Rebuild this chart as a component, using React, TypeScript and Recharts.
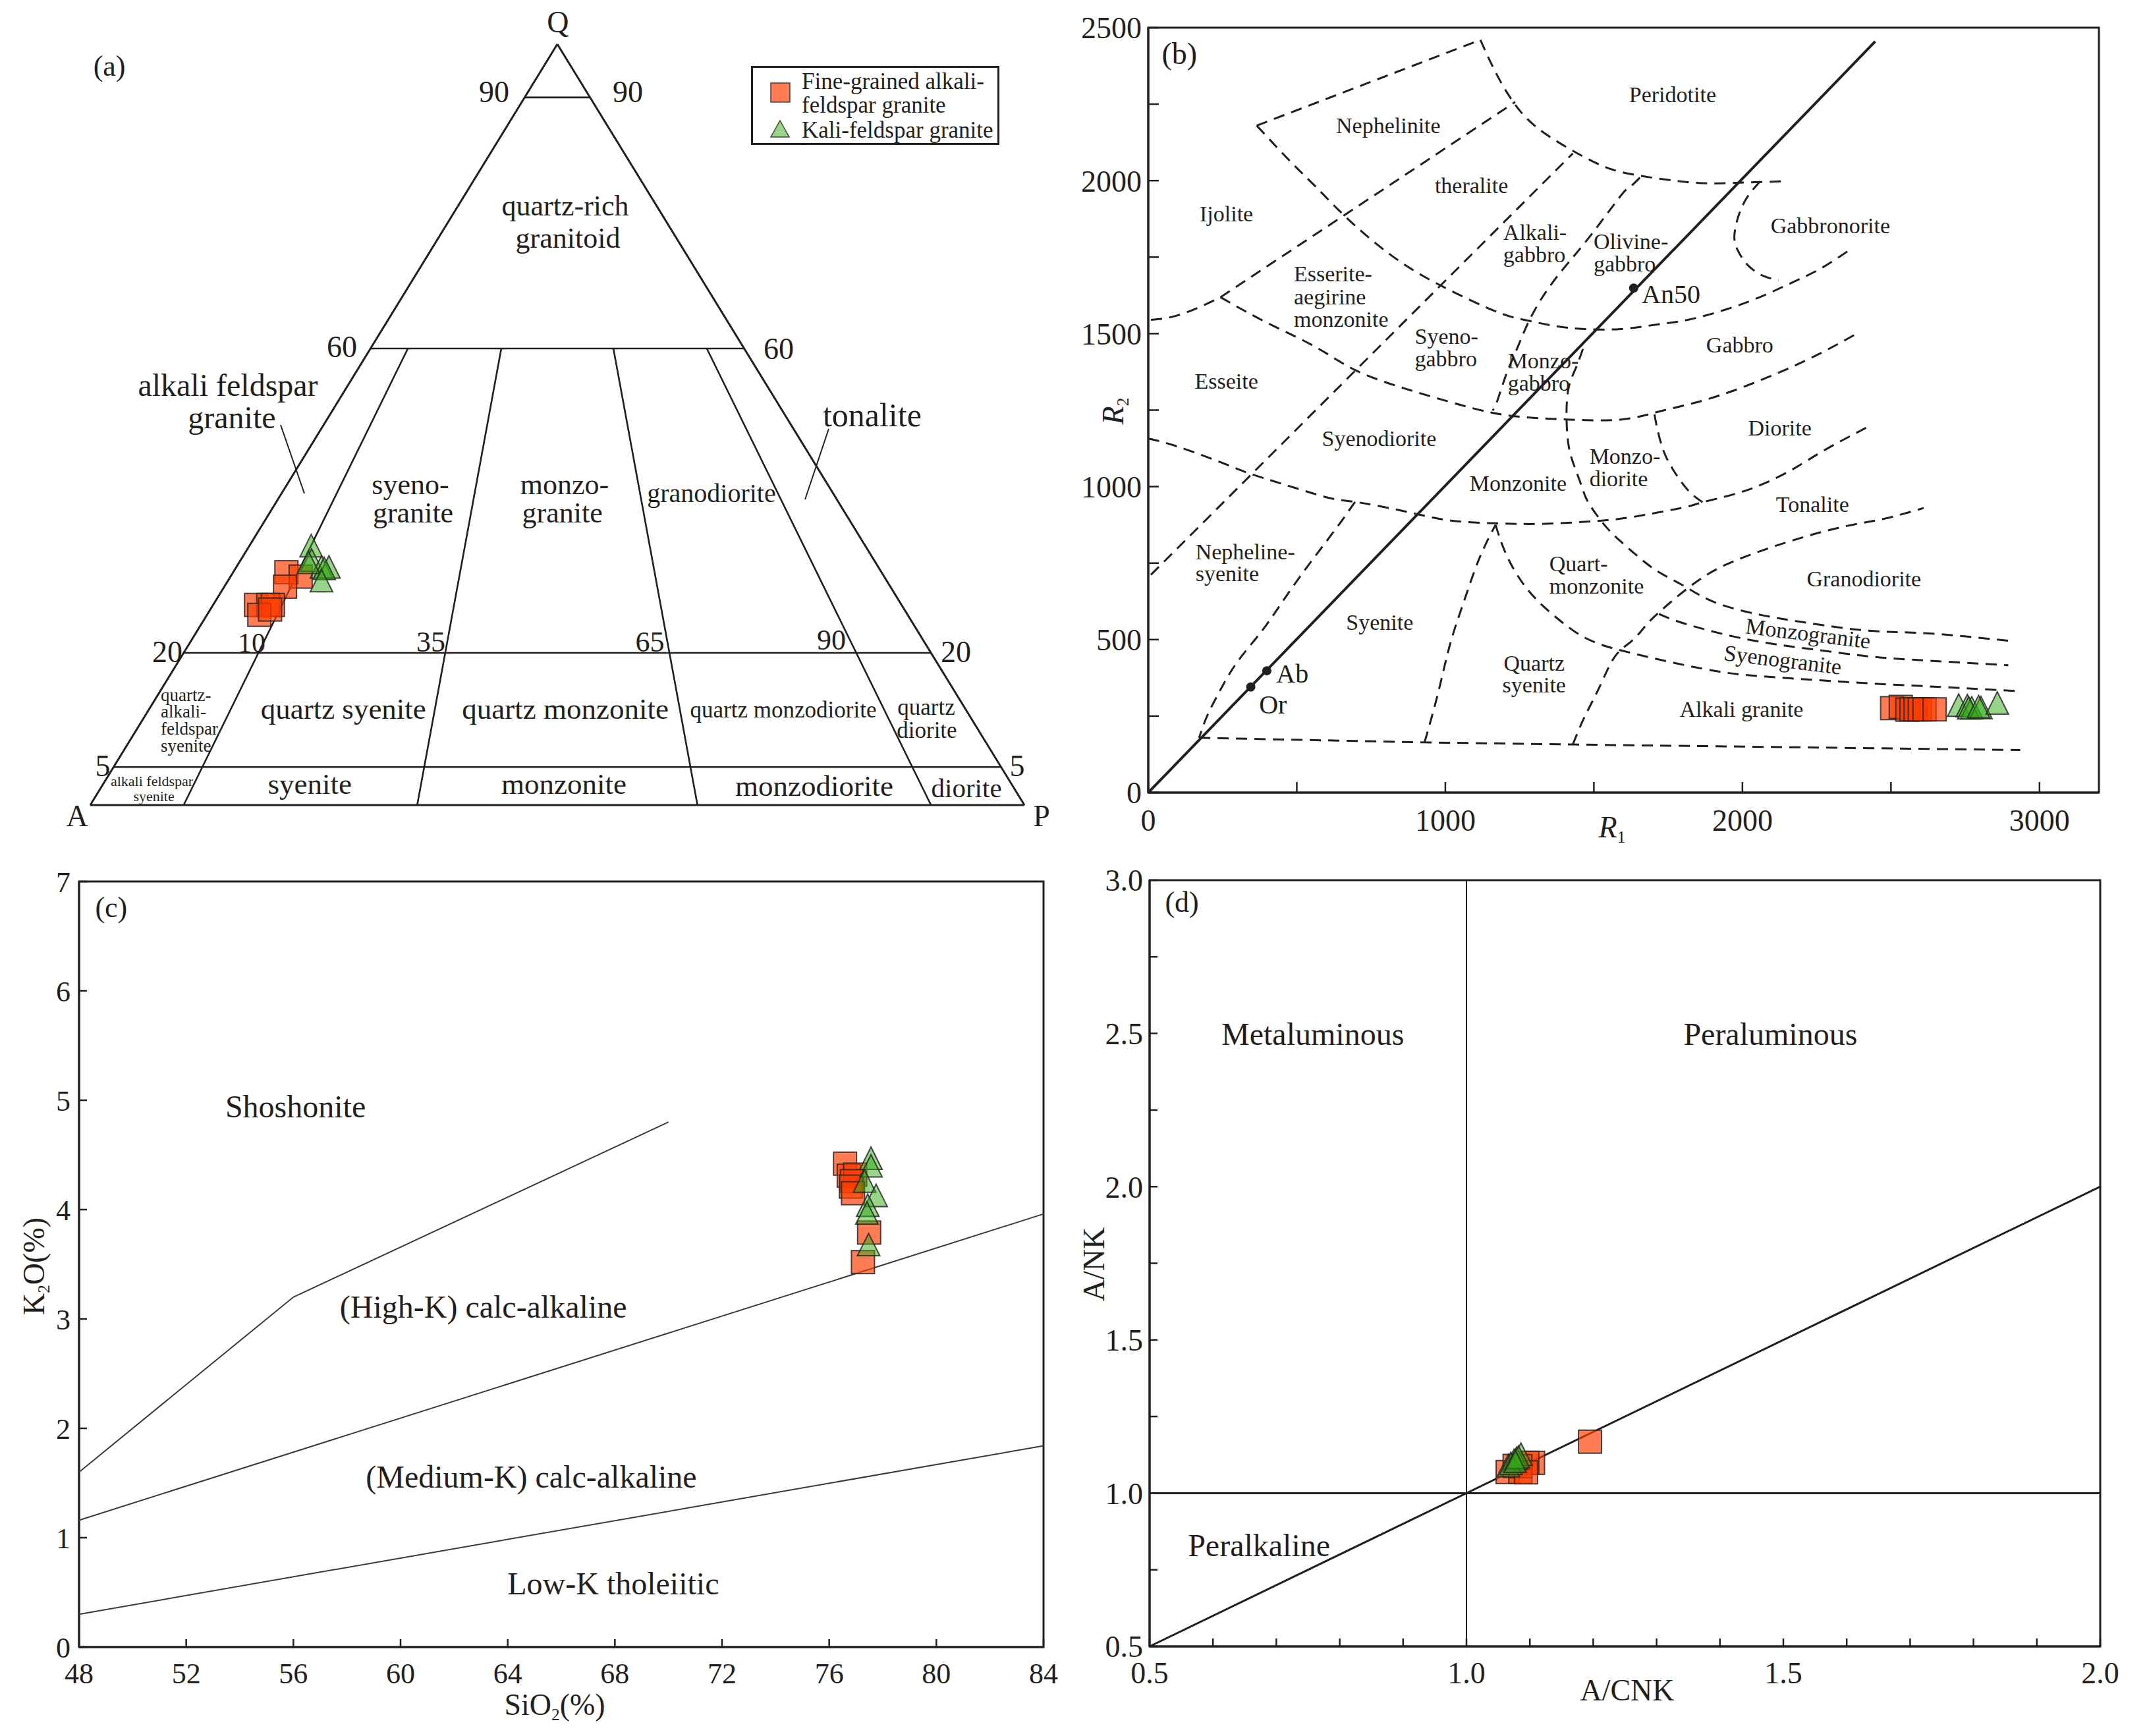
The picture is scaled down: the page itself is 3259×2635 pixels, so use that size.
import React from 'react';
import {
    ScatterChart,
    Scatter,
    XAxis,
    YAxis,
    ReferenceLine,
    ReferenceArea,
    Legend,
} from 'recharts';

const SERIF = '"Liberation Serif", "Times New Roman", serif';
const INK = '#231f20';
const SQ_FILL = 'rgba(255, 60, 0, 0.67)';
const TRI_FILL = 'rgba(50, 170, 20, 0.5)';
const EDGE = 'rgba(40, 40, 40, 0.85)';

// ---------- (a) QAP diagram, modal % ----------
const fineQ = [30.6, 30.0, 28.7, 26.3, 26.3, 26.3, 25.0, 25.7];
const fineA = [63.7, 62.4, 64.8, 69.1, 67.8, 67.3, 69.4, 67.9];
const fineP = [5.7, 7.5, 6.5, 4.6, 5.9, 6.4, 5.6, 6.4];
const kaliQ = [34.1, 32.2, 31.3, 31.3, 31.1, 29.5, 31.9];
const kaliA = [59.3, 60.2, 59.6, 58.8, 59.4, 60.5, 60.7];
const kaliP = [6.6, 7.6, 9.1, 9.9, 9.5, 10.0, 7.4];

// field boundaries: Q levels (%) and P/(A+P) ratios (%) that run from Q=60 to the A-P side
const qLevels = [93, 60, 20, 5];
const pRatios = [10, 35, 65, 90];

// ---------- (b) R1-R2 diagram ----------
const fineR1 = [2504, 2533, 2555, 2569, 2583, 2597, 2613, 2647];
const fineR2 = [276, 280, 271, 272, 272, 272, 272, 272];
const kaliR1 = [2728, 2757, 2772, 2762, 2803, 2795, 2858];
const kaliR2 = [286, 284, 277, 277, 278, 281, 293];

const refMinerals = [
    { name: 'Or', r1: 345, r2: 345 },
    { name: 'Ab', r1: 399, r2: 398 },
    { name: 'An50', r1: 1634, r2: 1649 },
];
const feldsparLine = [[0, 0], [2447, 2455]];

// dashed field boundaries, [R1, R2] vertices
const bBounds: { pts: number[][]; smooth: boolean }[] = [
    { smooth: false, pts: [[365, 2180], [1118, 2460]] },
    { smooth: true, pts: [[1118, 2460], [1179, 2336], [1261, 2217], [1368, 2133], [1500, 2061], [1622, 2022], [1816, 1995], [1948, 1992], [2146, 1998]] },
    { smooth: true, pts: [[365, 2180], [482, 2059], [564, 1980], [665, 1881], [808, 1763], [971, 1664], [1164, 1575], [1266, 1545], [1368, 1525], [1470, 1515], [1590, 1515], [1714, 1530], [1816, 1545], [1948, 1580], [2070, 1624], [2172, 1669], [2264, 1713], [2360, 1773]] },
    { smooth: true, pts: [[9, 1545], [85, 1556], [166, 1584], [243, 1619]] },
    { smooth: false, pts: [[243, 1619], [1235, 2257]] },
    { smooth: true, pts: [[243, 1619], [401, 1535], [564, 1456], [696, 1381], [859, 1322], [1011, 1278], [1144, 1244], [1266, 1227], [1419, 1219], [1590, 1219], [1714, 1244], [1836, 1273], [1968, 1313], [2121, 1372], [2263, 1436], [2396, 1506]] },
    { smooth: false, pts: [[9, 712], [1429, 2089]] },
    { smooth: true, pts: [[1655, 2010], [1622, 1980], [1590, 1950], [1490, 1822], [1398, 1713], [1337, 1634], [1281, 1540], [1235, 1436], [1205, 1367], [1174, 1278], [1159, 1249]] },
    { smooth: true, pts: [[1463, 1450], [1439, 1387], [1414, 1318], [1408, 1219], [1414, 1140], [1429, 1081], [1459, 1001], [1480, 950], [1531, 880], [1590, 821], [1673, 752], [1734, 712], [1816, 668], [1917, 618], [2070, 579], [2223, 554], [2426, 529], [2630, 520], [2905, 495]] },
    { smooth: true, pts: [[0, 1157], [95, 1132], [248, 1078], [340, 1043], [451, 1009], [604, 964], [696, 950], [859, 920], [1011, 890], [1169, 880], [1317, 878], [1469, 885], [1590, 895], [1714, 915], [1816, 935], [1866, 949], [1968, 974], [2070, 1009], [2172, 1058], [2274, 1118], [2416, 1192]] },
    { smooth: true, pts: [[1704, 1236], [1714, 1187], [1734, 1118], [1765, 1058], [1816, 989], [1866, 949]] },
    { smooth: true, pts: [[696, 950], [645, 880], [584, 801], [523, 722], [451, 623], [380, 525], [299, 426], [238, 327], [197, 248], [171, 179]] },
    { smooth: false, pts: [[171, 179], [930, 164], [1429, 157], [2935, 139]] },
    { smooth: true, pts: [[930, 164], [976, 327], [1016, 485], [1062, 623], [1113, 762], [1169, 875]] },
    { smooth: true, pts: [[1169, 875], [1195, 801], [1235, 722], [1286, 653], [1347, 594], [1439, 524], [1520, 485], [1590, 465], [1714, 436], [1917, 396], [2121, 376], [2426, 357], [2630, 347], [2920, 332]] },
    { smooth: true, pts: [[1429, 157], [1469, 248], [1520, 347], [1571, 445], [1627, 495], [1673, 544], [1719, 589], [1816, 668], [1917, 732], [2040, 782], [2192, 831], [2345, 870], [2477, 895], [2610, 930]] },
    { smooth: true, pts: [[1719, 584], [1816, 549], [2019, 500], [2223, 470], [2426, 445], [2630, 431], [2895, 416]] },
    { smooth: true, pts: [[2060, 1998], [2019, 1950], [1989, 1891], [1973, 1822], [1984, 1773], [2019, 1723], [2070, 1689], [2121, 1674]] },
];

const bXTicks = [0, 500, 1000, 1500, 2000, 2500, 3000];
const bYTicks = [0, 250, 500, 750, 1000, 1250, 1500, 1750, 2000, 2250, 2500];

// ---------- (c) SiO2 - K2O ----------
const fineSiO2 = [76.59, 76.73, 76.97, 76.85, 76.81, 76.89, 77.49, 77.26];
const fineK2O = [4.42, 4.31, 4.32, 4.26, 4.21, 4.15, 3.79, 3.52];
const kaliSiO2 = [77.56, 77.56, 77.32, 77.75, 77.44, 77.41, 77.47];
const kaliK2O = [4.47, 4.40, 4.26, 4.13, 4.04, 3.97, 3.68];

const seriesLines = [
    [[48, 1.6], [56, 3.2], [70, 4.8]],
    [[48, 1.16], [84, 3.96]],
    [[48, 0.3], [84, 1.84]],
];
const cXTicks = [48, 52, 56, 60, 64, 68, 72, 76, 80, 84];
const cYTicks = [0, 1, 2, 3, 4, 5, 6, 7];

// ---------- (d) A/CNK - A/NK ----------
const fineACNK = [1.065, 1.076, 1.085, 1.105, 1.096, 1.085, 1.094, 1.195];
const fineANK = [1.069, 1.089, 1.069, 1.099, 1.099, 1.088, 1.068, 1.168];
const kaliACNK = [1.066, 1.075, 1.086, 1.070, 1.079, 1.082, 1.077];
const kaliANK = [1.090, 1.107, 1.127, 1.097, 1.114, 1.118, 1.104];

const dXTicks = [0.5, 0.6, 0.7, 0.8, 0.9, 1.0, 1.1, 1.2, 1.3, 1.4, 1.5, 1.6, 1.7, 1.8, 1.9, 2.0];
const dYTicks = [0.5, 0.75, 1.0, 1.25, 1.5, 1.75, 2.0, 2.25, 2.5, 2.75, 3.0];

// ---------- helpers ----------
type Pt = { x: number; y: number };
const qap = (q: number, p: number): Pt => ({ x: p + q / 2, y: q });
const toPts = (arr: number[][]) => arr.map(([x, y]) => ({ x, y }));
const zip = (xs: number[], ys: number[]) => xs.map((x, i) => ({ x, y: ys[i] }));

const fineQAP = fineQ.map((q, i) => {
    const s = q + fineA[i] + fineP[i];
    return qap((q / s) * 100, (fineP[i] / s) * 100);
});
const kaliQAP = kaliQ.map((q, i) => {
    const s = q + kaliA[i] + kaliP[i];
    return qap((q / s) * 100, (kaliP[i] / s) * 100);
});

const aLabels = [
    { x: 2.05, y: 97.14, text: '(a)', size: 44 },
    { x: 50.07, y: 102.94, text: 'Q', size: 46 },
    { x: -1.41, y: -1.47, text: 'A', size: 46 },
    { x: 101.83, y: -1.47, text: 'P', size: 46 },
    { x: 43.23, y: 93.68, text: '90', size: 46 },
    { x: 57.55, y: 93.68, text: '90', size: 46 },
    { x: 26.94, y: 60.22, text: '60', size: 46 },
    { x: 73.7, y: 60.0, text: '60', size: 46 },
    { x: 8.25, y: 20.09, text: '20', size: 46 },
    { x: 92.67, y: 20.09, text: '20', size: 46 },
    { x: 1.34, y: 5.11, text: '5', size: 46 },
    { x: 99.22, y: 5.11, text: '5', size: 46 },
    { x: 17.28, y: 21.34, text: '10', size: 42 },
    { x: 36.46, y: 21.47, text: '35', size: 44 },
    { x: 59.91, y: 21.47, text: '65', size: 44 },
    { x: 79.34, y: 21.73, text: '90', size: 44 },
    { x: 50.85, y: 78.75, text: 'quartz-rich', size: 44 },
    { x: 51.13, y: 74.5, text: 'granitoid', size: 44 },
    { x: 14.74, y: 55.19, text: 'alkali feldspar', size: 48 },
    { x: 15.16, y: 50.95, text: 'granite', size: 48 },
    { x: 34.27, y: 42.16, text: 'syeno-', size: 44 },
    { x: 34.56, y: 38.44, text: 'granite', size: 44 },
    { x: 50.78, y: 42.16, text: 'monzo-', size: 44 },
    { x: 50.54, y: 38.44, text: 'granite', size: 44 },
    { x: 66.5, y: 41.0, text: 'granodiorite', size: 40 },
    { x: 83.7, y: 51.25, text: 'tonalite', size: 50 },
    { x: 27.1, y: 12.64, text: 'quartz syenite', size: 45 },
    { x: 50.85, y: 12.64, text: 'quartz monzonite', size: 45 },
    { x: 74.19, y: 12.51, text: 'quartz monzodiorite', size: 35 },
    { x: 89.49, y: 12.86, text: 'quartz', size: 35 },
    { x: 89.56, y: 9.87, text: 'diorite', size: 35 },
    { x: 7.55, y: 14.46, text: 'quartz-', size: 27, anchor: 'start' },
    { x: 7.55, y: 12.29, text: 'alkali-', size: 27, anchor: 'start' },
    { x: 7.55, y: 10.04, text: 'feldspar', size: 27, anchor: 'start' },
    { x: 7.55, y: 7.79, text: 'syenite', size: 27, anchor: 'start' },
    { x: 6.6, y: 3.2, text: 'alkali feldspar', size: 22 },
    { x: 6.81, y: 1.2, text: 'syenite', size: 22 },
    { x: 23.5, y: 2.77, text: 'syenite', size: 45 },
    { x: 50.7, y: 2.77, text: 'monzonite', size: 45 },
    { x: 77.5, y: 2.47, text: 'monzodiorite', size: 45 },
    { x: 93.8, y: 2.25, text: 'diorite', size: 41 },
];
const aLeaders = [
    [{ x: 20.38, y: 49.96 }, { x: 22.92, y: 40.95 }],
    [{ x: 79.05, y: 49.44 }, { x: 76.52, y: 40.17 }],
];

const bLabels = [
    { x: 105, y: 2415, text: '(b)', size: 46 },
    { x: 808, y: 2180, text: 'Nephelinite' },
    { x: 1088, y: 1985, text: 'theralite' },
    { x: 263, y: 1891, text: 'Ijolite' },
    { x: 1195, y: 1832, text: 'Alkali-', anchor: 'start' },
    { x: 1195, y: 1758, text: 'gabbro', anchor: 'start' },
    { x: 1499, y: 1802, text: 'Olivine-', anchor: 'start' },
    { x: 1499, y: 1728, text: 'gabbro', anchor: 'start' },
    { x: 490, y: 1695, text: 'Esserite-', anchor: 'start' },
    { x: 490, y: 1621, text: 'aegirine', anchor: 'start' },
    { x: 490, y: 1547, text: 'monzonite', anchor: 'start' },
    { x: 897, y: 1491, text: 'Syeno-', anchor: 'start' },
    { x: 897, y: 1417, text: 'gabbro', anchor: 'start' },
    { x: 1210, y: 1412, text: 'Monzo-', anchor: 'start' },
    { x: 1210, y: 1338, text: 'gabbro', anchor: 'start' },
    { x: 263, y: 1345, text: 'Esseite' },
    { x: 777, y: 1158, text: 'Syenodiorite' },
    { x: 1245, y: 1011, text: 'Monzonite' },
    { x: 1485, y: 1100, text: 'Monzo-', anchor: 'start' },
    { x: 1485, y: 1026, text: 'diorite', anchor: 'start' },
    { x: 1765, y: 2282, text: 'Peridotite' },
    { x: 2296, y: 1852, text: 'Gabbronorite' },
    { x: 1991, y: 1464, text: 'Gabbro' },
    { x: 2126, y: 1191, text: 'Diorite' },
    { x: 2236, y: 942, text: 'Tonalite' },
    { x: 2409, y: 698, text: 'Granodiorite' },
    { x: 2221, y: 520, text: 'Monzogranite', rot: 7 },
    { x: 2136, y: 434, text: 'Syenogranite', rot: 7 },
    { x: 1997, y: 272, text: 'Alkali granite' },
    { x: 159, y: 787, text: 'Nepheline-', anchor: 'start' },
    { x: 159, y: 715, text: 'syenite', anchor: 'start' },
    { x: 779, y: 557, text: 'Syenite' },
    { x: 1299, y: 423, text: 'Quartz' },
    { x: 1299, y: 352, text: 'syenite' },
    { x: 1350, y: 749, text: 'Quart-', anchor: 'start' },
    { x: 1350, y: 675, text: 'monzonite', anchor: 'start' },
    { x: 1661, y: 1629, text: 'An50', anchor: 'start', size: 40 },
    { x: 431, y: 388, text: 'Ab', anchor: 'start', size: 40 },
    { x: 373, y: 288, text: 'Or', anchor: 'start', size: 40 },
];

const cLabels = [
    { x: 49.2, y: 6.76, text: '(c)', size: 44 },
    { x: 56.08, y: 4.94, text: 'Shoshonite' },
    { x: 63.09, y: 3.11, text: '(High-K) calc-alkaline' },
    { x: 64.88, y: 1.56, text: '(Medium-K) calc-alkaline' },
    { x: 67.94, y: 0.58, text: 'Low-K tholeiitic' },
];

const dLabels = [
    { x: 0.551, y: 2.927, text: '(d)', size: 44 },
    { x: 0.7575, y: 2.497, text: 'Metaluminous' },
    { x: 1.4796, y: 2.497, text: 'Peraluminous' },
    { x: 0.6727, y: 0.829, text: 'Peralkaline' },
];

// ---------- shapes ----------
const squareShape = (s: number) => (p: any) => (
    <rect x={p.cx - s / 2} y={p.cy - s / 2} width={s} height={s} fill={SQ_FILL} stroke={EDGE} strokeWidth={2} />
);
const triangleShape = (w: number, h: number) => (p: any) => (
    <polygon
        points={`${p.cx},${p.cy - h / 2} ${p.cx + w / 2},${p.cy + h / 2} ${p.cx - w / 2},${p.cy + h / 2}`}
        fill={TRI_FILL}
        stroke={EDGE}
        strokeWidth={2}
    />
);
const textShape = (defSize: number) => (p: any) => {
    const d = p.payload;
    return (
        <text
            x={p.cx}
            y={p.cy}
            textAnchor={d.anchor ?? 'middle'}
            dominantBaseline="central"
            fontFamily={SERIF}
            fontSize={d.size ?? defSize}
            fill={INK}
            transform={d.rot ? `rotate(${d.rot} ${p.cx} ${p.cy})` : undefined}
        >
            {d.text}
        </text>
    );
};
const blank = () => <g />;
const dotShape = (p: any) => <circle cx={p.cx} cy={p.cy} r={7} fill={INK} />;

const axisLine = { stroke: INK, strokeWidth: 3 };
const tickLine = { stroke: INK, strokeWidth: 2.5 };
const tickText = (size: number) => ({ fontSize: size, fontFamily: SERIF, fill: INK });

const TernaryLegend = () => (
    <div
        style={{
            width: 377,
            height: 120,
            border: `3px solid ${INK}`,
            boxSizing: 'border-box',
            position: 'relative',
            background: '#fff',
            fontFamily: SERIF,
            fontSize: 35,
            color: INK,
            whiteSpace: 'nowrap',
        }}
    >
        <svg width={70} height={114} style={{ position: 'absolute', left: 0, top: 0 }}>
            <rect x={27} y={23} width={29} height={29} fill={SQ_FILL} stroke={EDGE} strokeWidth={1.5} />
            <polygon points="41,80 55,105 27,105" fill={TRI_FILL} stroke={EDGE} strokeWidth={1.5} />
        </svg>
        <div style={{ position: 'absolute', left: 74, top: 3, lineHeight: '36px' }}>
            Fine-grained alkali-
            <br />
            feldspar granite
        </div>
        <div style={{ position: 'absolute', left: 74, top: 77, lineHeight: '36px' }}>Kali-feldspar granite</div>
    </div>
);

const PanelA = () => (
    <ScatterChart width={1640} height={1300} margin={{ top: 0, right: 0, bottom: 0, left: 0 }}>
        <XAxis type="number" dataKey="x" domain={[-9.661, 105.994]} hide />
        <YAxis type="number" dataKey="y" domain={[-6.753, 105.801]} hide />
        {[
            [qap(0, 0), qap(0, 100)],
            [qap(0, 100), qap(100, 0)],
            [qap(100, 0), qap(0, 0)],
        ].map((seg, i) => (
            <ReferenceLine key={`edge${i}`} segment={seg} stroke={INK} strokeWidth={3} ifOverflow="visible" />
        ))}
        {qLevels.map((q) => (
            <ReferenceLine key={`q${q}`} segment={[qap(q, 0), qap(q, 100 - q)]} stroke={INK} strokeWidth={2.6} ifOverflow="visible" />
        ))}
        {pRatios.map((r) => (
            <ReferenceLine key={`r${r}`} segment={[qap(60, r * 0.4), qap(0, r)]} stroke={INK} strokeWidth={2.6} ifOverflow="visible" />
        ))}
        {aLeaders.map((seg, i) => (
            <ReferenceLine key={`lead${i}`} segment={seg} stroke={INK} strokeWidth={2} ifOverflow="visible" />
        ))}
        <Scatter data={aLabels} shape={textShape(44)} isAnimationActive={false} />
        <Scatter data={fineQAP} shape={squareShape(35)} isAnimationActive={false} />
        <Scatter data={kaliQAP} shape={triangleShape(34, 34)} isAnimationActive={false} />
        <Legend
            layout="horizontal"
            verticalAlign="middle"
            align="center"
            wrapperStyle={{ left: 1140, top: 100, width: 377, height: 120 }}
            content={() => <TernaryLegend />}
        />
    </ScatterChart>
);

const PanelB = () => (
    <ScatterChart width={1650} height={1300} margin={{ top: 42, right: 64, bottom: 27, left: 43 }}>
        <XAxis
            type="number"
            dataKey="x"
            domain={[0, 3200]}
            ticks={bXTicks}
            interval={0}
            tickFormatter={(v: number) => (v % 1000 === 0 ? String(v) : '')}
            tickSize={-16}
            tickMargin={41}
            height={70}
            axisLine={axisLine}
            tickLine={tickLine}
            tick={tickText(46)}
        />
        <YAxis
            type="number"
            dataKey="y"
            domain={[0, 2500]}
            ticks={bYTicks}
            interval={0}
            tickFormatter={(v: number) => (v % 500 === 0 ? String(v) : '')}
            tickSize={-16}
            tickMargin={26}
            width={100}
            axisLine={axisLine}
            tickLine={tickLine}
            tick={tickText(46)}
        />
        <ReferenceArea x1={0} x2={3200} y1={0} y2={2500} fill="none" stroke={INK} strokeWidth={3} ifOverflow="visible" />
        {bBounds.map((b, i) => (
            <Scatter
                key={`bb${i}`}
                data={toPts(b.pts)}
                line={{ stroke: INK, strokeWidth: 3, strokeDasharray: '17 11' }}
                lineJointType={b.smooth ? 'natural' : 'linear'}
                shape={blank}
                isAnimationActive={false}
            />
        ))}
        <Scatter data={toPts(feldsparLine)} line={{ stroke: INK, strokeWidth: 4 }} shape={blank} isAnimationActive={false} />
        <Scatter data={refMinerals.map((m) => ({ x: m.r1, y: m.r2 }))} shape={dotShape} isAnimationActive={false} />
        <Scatter data={bLabels} shape={textShape(34)} isAnimationActive={false} />
        <Scatter data={zip(fineR1, fineR2)} shape={squareShape(35)} isAnimationActive={false} />
        <Scatter data={zip(kaliR1, kaliR2)} shape={triangleShape(34, 34)} isAnimationActive={false} />
    </ScatterChart>
);

const PanelC = () => (
    <ScatterChart width={1640} height={1335} margin={{ top: 38, right: 56, bottom: 65, left: 30 }}>
        <XAxis
            type="number"
            dataKey="x"
            domain={[48, 84]}
            ticks={cXTicks}
            interval={0}
            tickSize={-12}
            tickMargin={36}
            height={70}
            axisLine={axisLine}
            tickLine={tickLine}
            tick={tickText(44)}
        />
        <YAxis
            type="number"
            dataKey="y"
            domain={[0, 7]}
            ticks={cYTicks}
            interval={0}
            tickSize={-12}
            tickMargin={25}
            width={90}
            axisLine={axisLine}
            tickLine={tickLine}
            tick={tickText(44)}
        />
        <ReferenceArea x1={48} x2={84} y1={0} y2={7} fill="none" stroke={INK} strokeWidth={3} ifOverflow="visible" />
        {seriesLines.map((l, i) => (
            <Scatter key={`sl${i}`} data={toPts(l)} line={{ stroke: '#3a3a3a', strokeWidth: 2 }} shape={blank} isAnimationActive={false} />
        ))}
        <Scatter data={cLabels} shape={textShape(48)} isAnimationActive={false} />
        <Scatter data={zip(fineSiO2, fineK2O)} shape={squareShape(35)} isAnimationActive={false} />
        <Scatter data={zip(kaliSiO2, kaliK2O)} shape={triangleShape(34, 34)} isAnimationActive={false} />
    </ScatterChart>
);

const half = (v: number) => Math.abs(v * 2 - Math.round(v * 2)) < 1e-6;

const PanelD = () => (
    <ScatterChart width={1659} height={1335} margin={{ top: 36, right: 71, bottom: 66, left: 45 }}>
        <XAxis
            type="number"
            dataKey="x"
            domain={[0.5, 2.0]}
            ticks={dXTicks}
            interval={0}
            tickFormatter={(v: number) => (half(v) ? v.toFixed(1) : '')}
            tickSize={-12}
            tickMargin={35}
            height={70}
            axisLine={axisLine}
            tickLine={tickLine}
            tick={tickText(46)}
        />
        <YAxis
            type="number"
            dataKey="y"
            domain={[0.5, 3.0]}
            ticks={dYTicks}
            interval={0}
            tickFormatter={(v: number) => (half(v) ? v.toFixed(1) : '')}
            tickSize={-12}
            tickMargin={22}
            width={100}
            axisLine={axisLine}
            tickLine={tickLine}
            tick={tickText(46)}
        />
        <ReferenceArea x1={0.5} x2={2.0} y1={0.5} y2={3.0} fill="none" stroke={INK} strokeWidth={3} ifOverflow="visible" />
        <ReferenceLine x={1.0} stroke={INK} strokeWidth={2} />
        <ReferenceLine y={1.0} stroke={INK} strokeWidth={3} />
        <ReferenceLine segment={[{ x: 0.5, y: 0.5 }, { x: 2.0, y: 2.0 }]} stroke={INK} strokeWidth={3} ifOverflow="visible" />
        <Scatter data={dLabels} shape={textShape(48)} isAnimationActive={false} />
        <Scatter data={zip(fineACNK, fineANK)} shape={squareShape(35)} isAnimationActive={false} />
        <Scatter data={zip(kaliACNK, kaliANK)} shape={triangleShape(34, 34)} isAnimationActive={false} />
    </ScatterChart>
);

const Title = ({ x, y, rotate, children }: { x: number; y: number; rotate?: boolean; children: React.ReactNode }) => (
    <div
        style={{
            position: 'absolute',
            left: x,
            top: y,
            transform: `translate(-50%, -50%)${rotate ? ' rotate(-90deg)' : ''}`,
            fontFamily: SERIF,
            fontSize: 46,
            color: INK,
            whiteSpace: 'nowrap',
            lineHeight: 1,
        }}
    >
        {children}
    </div>
);
const Sub = ({ children }: { children: React.ReactNode }) => (
    <span style={{ fontSize: '0.55em', verticalAlign: '-0.3em' }}>{children}</span>
);

export default function App() {
    return (
        <div style={{ position: 'absolute', left: 0, top: 0, width: 3259, height: 2635, background: '#fff', overflow: 'hidden' }}>
            <div style={{ position: 'absolute', left: 0, top: 0 }}>
                <PanelA />
            </div>
            <div style={{ position: 'absolute', left: 1600, top: 0 }}>
                <PanelB />
            </div>
            <div style={{ position: 'absolute', left: 0, top: 1300 }}>
                <PanelC />
            </div>
            <div style={{ position: 'absolute', left: 1600, top: 1300 }}>
                <PanelD />
            </div>
            <Title x={2447} y={1258}>
                <i>R</i>
                <Sub>1</Sub>
            </Title>
            <Title x={1692} y={624} rotate>
                <i>R</i>
                <Sub>2</Sub>
            </Title>
            <Title x={842} y={2590}>
                SiO<Sub>2</Sub>(%)
            </Title>
            <Title x={54} y={1922} rotate>
                K<Sub>2</Sub>O(%)
            </Title>
            <Title x={2470} y={2566}>A/CNK</Title>
            <Title x={1661} y={1919} rotate>
                A/NK
            </Title>
        </div>
    );
}
